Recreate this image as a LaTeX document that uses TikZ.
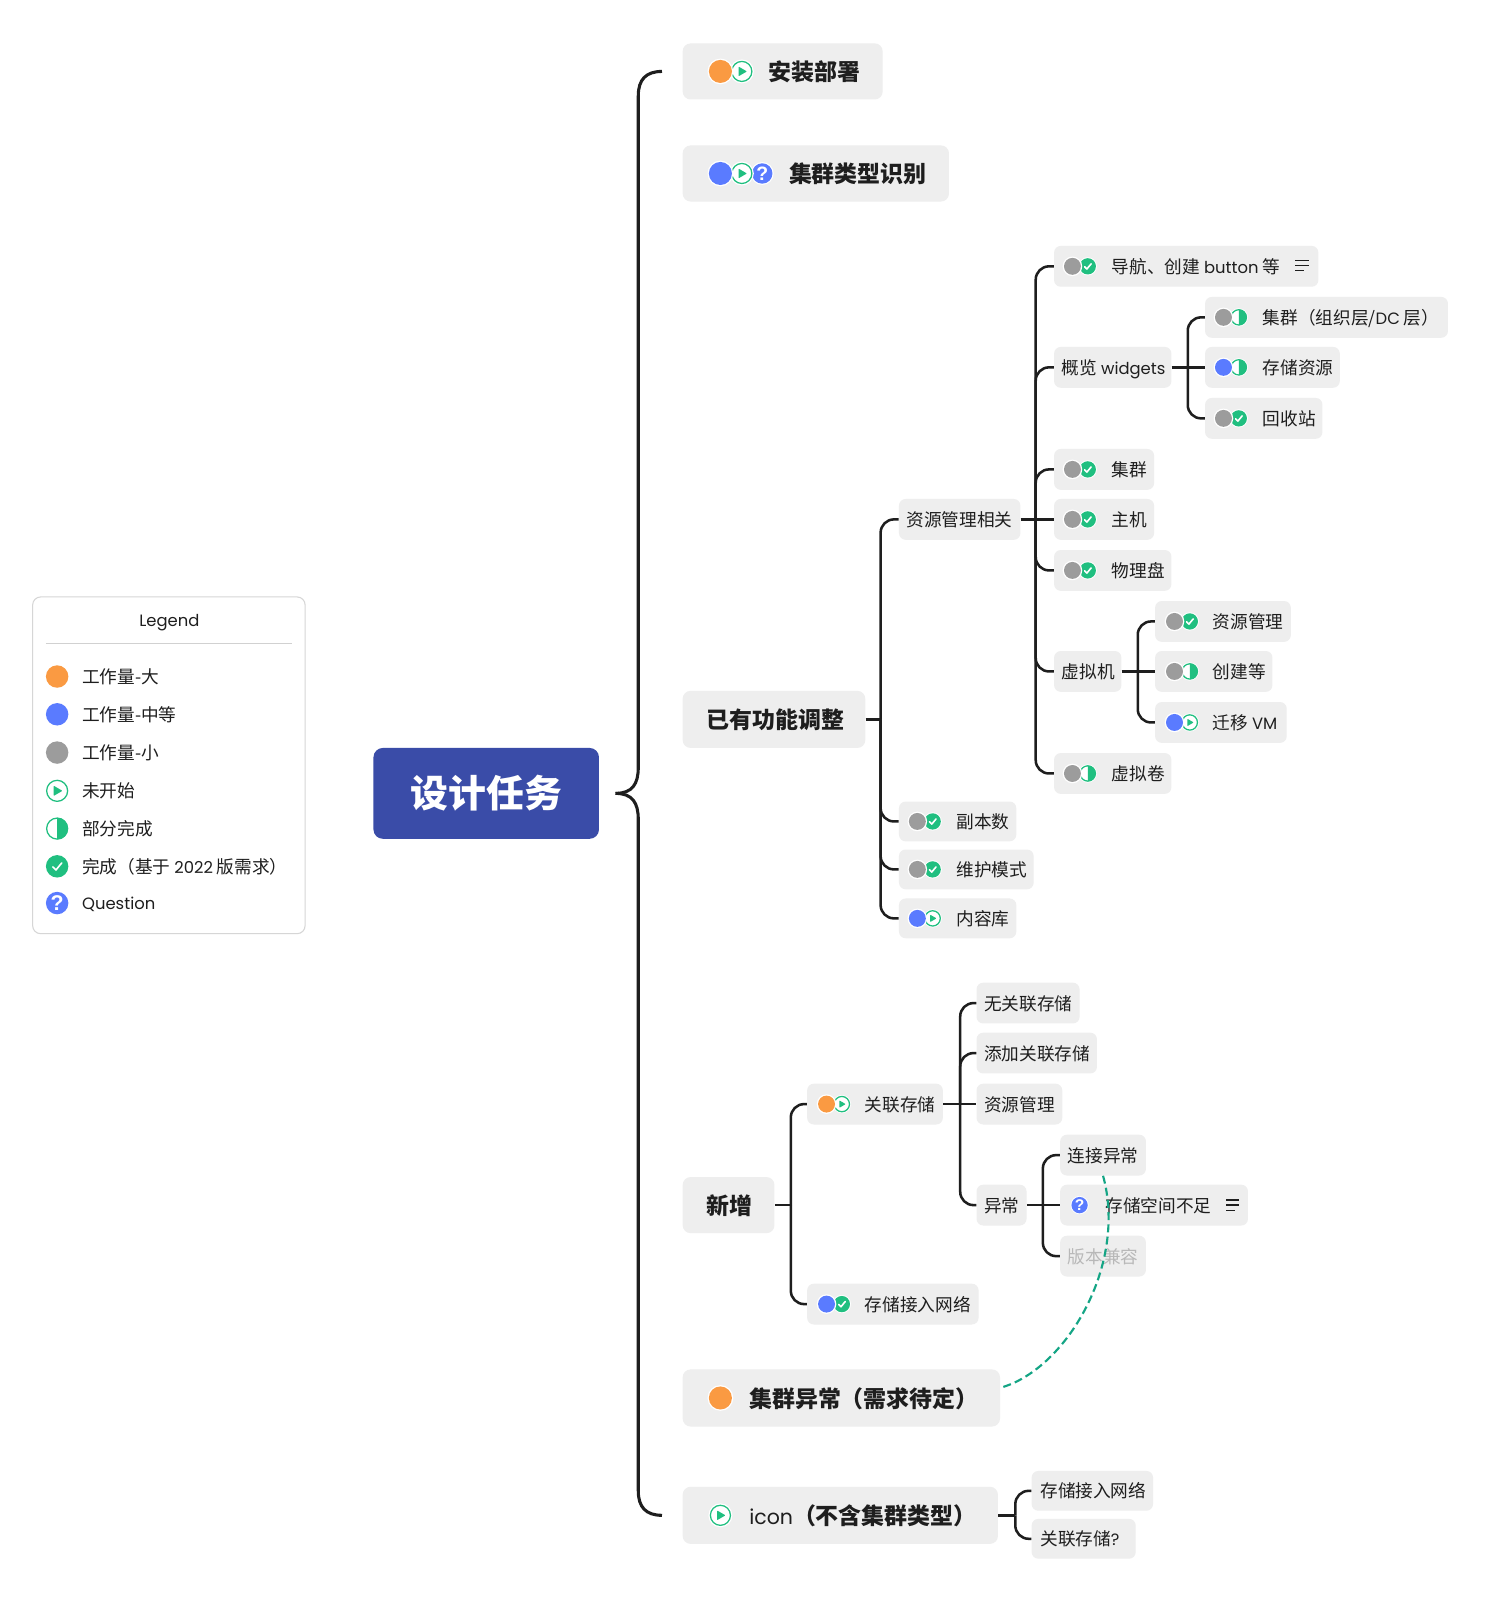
\documentclass[tikz,border=0pt]{standalone}
\usepackage{fontspec}
\setmainfont{Noto Sans CJK SC}
\newfontfamily\latf{Poppins}
\newfontfamily\latm{Poppins Medium}
\newfontfamily\qmf{Liberation Sans}
\newcommand{\lat}[1]{{\latf\fontsize{12.3pt}{14pt}\selectfont #1}}
\definecolor{boxg}{HTML}{EEEEEE}
\definecolor{rootb}{HTML}{3A4CA8}
\definecolor{ink}{HTML}{1E1E1E}
\definecolor{ora}{HTML}{FA9A42}
\definecolor{blu}{HTML}{5A7BFF}
\definecolor{gra}{HTML}{9C9C9C}
\definecolor{gre}{HTML}{20BF80}
\definecolor{teal2}{HTML}{14A585}
\tikzset{
  boxa/.style={fill=boxg,draw=none,rounded corners=6pt,inner sep=0pt},
  boxb/.style={fill=boxg,draw=none,rounded corners=5pt,inner sep=0pt},
  tl/.style={font=\fontsize{17.2pt}{18pt}\selectfont\bfseries,text=ink,inner sep=0pt,anchor=west,text height=15.4pt,text depth=1.8pt},
  ts/.style={font=\fontsize{13.25pt}{15pt}\selectfont,text=ink,inner sep=0pt,anchor=west,text height=12pt,text depth=1.3pt,xshift=0.2pt},
  tg/.style={ts,text=black!28},
  conn/.style={line width=1.9pt,draw=ink,rounded corners=10pt},
  brace/.style={line width=2.3pt,draw=ink},
  link/.style={line width=1.6pt,draw=teal2,dash pattern=on 6pt off 3.2pt},
  qmark/.style={font=\qmf\fontsize{16pt}{16pt}\selectfont\bfseries,text=white,inner sep=0pt,transform shape},
}
% name, x1, x2, cy, h, boxstyle, textx, textstyle, text
\newcommand{\mm}[9]{%
  \node[#6,minimum width={(#3-#2)*0.7654pt},minimum height={#5*0.7654pt}] (#1) at ({(#2+#3)/2},#4) {};
  \node[#8] (#1-t) at (#7,#4) {#9};}
\newcommand{\dotI}[4]{\fill[white] (#1,#2) circle[radius=#3+1.3];\fill[#4] (#1,#2) circle[radius=#3];}
\newcommand{\playI}[3]{\begin{scope}[shift={(#1,#2)},scale=#3/11]
  \fill[white] (0,0) circle[radius=12.3];
  \draw[gre,line width=0.95pt] (0,0) circle[radius=10.3];
  \fill[gre,rounded corners=0.5pt] (-3.4,-5) -- (5.2,0) -- (-3.4,5) -- cycle;\end{scope}}
\newcommand{\halfI}[3]{\begin{scope}[shift={(#1,#2)},scale=#3/11]
  \fill[white] (0,0) circle[radius=12.3];
  \draw[gre,line width=0.95pt] (0,0) circle[radius=10.3];
  \fill[gre] (0,-10.6) arc[start angle=-90,end angle=90,radius=10.6] -- cycle;\end{scope}}
\newcommand{\checkI}[3]{\begin{scope}[shift={(#1,#2)},scale=#3/11]
  \fill[white] (0,0) circle[radius=12.3];
  \fill[gre] (0,0) circle[radius=11];
  \draw[white,line width=1.2pt,line cap=round,line join=round] (-4.3,0.5) -- (-1.2,3.6) -- (4.6,-3.4);\end{scope}}
\newcommand{\questI}[3]{\begin{scope}[shift={(#1,#2)},scale=#3/11]
  \fill[white] (0,0) circle[radius=12.3];
  \fill[blu] (0,0) circle[radius=11];
  \node[qmark] (qm) at (0,0) {?};\end{scope}}
% small pair: x of dot, y, colour, status macro
\newcommand{\pairI}[4]{#4{#1+15}{#2}{8};\dotI{#1}{#2}{8.3}{#3}}
\newcommand{\notesI}[2]{\draw[ink,line width=1pt] (#1-6.5,#2-5) -- (#1+6.5,#2-5) (#1-6.5,#2) -- (#1+6.5,#2) (#1-6.5,#2+5) -- (#1+2,#2+5);}
\begin{document}
\begin{tikzpicture}[x=0.7654pt,y=-0.7654pt]
\useasboundingbox[fill=white] (0,0) rectangle (1458,1568);

% ---- legend
\node[draw=black!16,fill=white,line width=0.8pt,rounded corners=6pt,minimum width={267*0.7654pt},minimum height={330*0.7654pt},inner sep=0pt] (legend) at (165.5,750) {};
\node[ts] (legendtitle) at (136,607) {\lat{Legend}};
\draw[black!18,line width=0.8pt] (45,631) -- (286,631);
\dotI{56}{663}{11}{ora}
\dotI{56}{700}{11}{blu}
\dotI{56}{737.5}{11}{gra}
\playI{56}{775}{11}
\halfI{56}{812}{11}
\checkI{56}{849}{11}
\questI{56}{885}{11}
\node[ts] (lg1) at (80,663) {工作量-大};
\node[ts] (lg2) at (80,700) {工作量-中等};
\node[ts] (lg3) at (80,737.5) {工作量-小};
\node[ts] (lg4) at (80,775) {未开始};
\node[ts] (lg5) at (80,812) {部分完成};
\node[ts] (lg6) at (80,849) {完成（基于 \lat{2022} 版需求）};
\node[ts] (lg7) at (80,884) {\lat{Question}};

% ---- root
\node[fill=rootb,rounded corners=7pt,minimum width={221*0.7654pt},minimum height={89*0.7654pt},inner sep=0pt,font=\fontsize{28.4pt}{30pt}\selectfont\bfseries,text=white] (root) at (476.5,777.5) {设计任务};

% ---- level 1
\mm{install}{669}{865}{70}{55}{boxa}{753}{tl}{安装部署}
\mm{ctype}{669}{930}{170}{55}{boxa}{773}{tl}{集群类型识别}
\mm{adjust}{669}{848}{705}{56}{boxa}{692}{tl}{已有功能调整}
\mm{newadd}{669}{759}{1181}{55}{boxa}{692}{tl}{新增}
\mm{cerr}{669}{980}{1370}{56}{boxa}{734}{tl}{集群异常（需求待定）}
\mm{iconn}{669}{978}{1485}{56}{boxa}{734}{tl}{{\latf\fontsize{15.4pt}{18pt}\selectfont\mdseries icon}（不含集群类型）}

% ---- level 2
\mm{res}{881}{1000}{509}{40}{boxb}{888}{ts}{资源管理相关}
\mm{rep}{881}{996}{805}{39}{boxb}{937}{ts}{副本数}
\mm{maint}{881}{1013}{852}{39}{boxb}{937}{ts}{维护模式}
\mm{lib}{881}{996}{900}{39}{boxb}{937}{ts}{内容库}
\mm{assoc}{791}{924}{1082}{40}{boxb}{847}{ts}{关联存储}
\mm{netw}{791}{959}{1278}{40}{boxb}{847}{ts}{存储接入网络}

% ---- level 3
\mm{nav}{1033}{1292}{261}{40}{boxb}{1089}{ts}{导航、创建 \lat{button} 等}
\mm{wid}{1033}{1148}{360}{40}{boxb}{1040}{ts}{概览 \lat{widgets}}
\mm{clu}{1033}{1131}{460}{40}{boxb}{1089}{ts}{集群}
\mm{host}{1033}{1131}{509}{40}{boxb}{1089}{ts}{主机}
\mm{disk}{1033}{1148}{559}{40}{boxb}{1089}{ts}{物理盘}
\mm{vm}{1033}{1099}{658}{40}{boxb}{1040}{ts}{虚拟机}
\mm{vol}{1033}{1148}{758}{40}{boxb}{1089}{ts}{虚拟卷}
\mm{w1}{1181}{1419}{311}{40}{boxb}{1237}{ts}{集群（组织层/\lat{DC} 层）}
\mm{w2}{1181}{1313}{360}{40}{boxb}{1237}{ts}{存储资源}
\mm{w3}{1181}{1296}{410}{40}{boxb}{1237}{ts}{回收站}
\mm{v1}{1132}{1265}{609}{40}{boxb}{1188}{ts}{资源管理}
\mm{v2}{1132}{1247}{658}{40}{boxb}{1188}{ts}{创建等}
\mm{v3}{1132}{1261}{708}{40}{boxb}{1188}{ts}{迁移 \lat{VM}}
\mm{a1}{957}{1058}{983}{40}{boxb}{964}{ts}{无关联存储}
\mm{a2}{957}{1075}{1032}{40}{boxb}{964}{ts}{添加关联存储}
\mm{a3}{957}{1041}{1082}{40}{boxb}{964}{ts}{资源管理}
\mm{a4}{957}{1006}{1181}{40}{boxb}{964}{ts}{异常}
\mm{e1}{1039}{1123}{1132}{40}{boxb}{1046}{ts}{连接异常}
\mm{e2}{1039}{1223}{1181}{40}{boxb}{1083}{ts}{存储空间不足}
\mm{e3}{1039}{1123}{1231}{40}{boxb}{1046}{tg}{版本兼容}
\mm{i1}{1011}{1130}{1461}{39}{boxb}{1019}{ts}{存储接入网络}
\mm{i2}{1011}{1113}{1508}{39}{boxb}{1019}{ts}{关联存储\lat{?}}

% ---- icons
\playI{727}{70}{10.5}\dotI{706}{70}{11.3}{ora}
\questI{747}{170}{10}\playI{727}{170}{10.5}\dotI{706}{170}{11.3}{blu}
\dotI{706}{1370}{11.3}{ora}
\playI{706}{1485}{10.5}
\pairI{899}{805}{gra}{\checkI}
\pairI{899}{852}{gra}{\checkI}
\pairI{899}{900}{blu}{\playI}
\pairI{810}{1082}{ora}{\playI}
\pairI{810}{1278}{blu}{\checkI}
\pairI{1051}{261}{gra}{\checkI}
\pairI{1051}{460}{gra}{\checkI}
\pairI{1051}{509}{gra}{\checkI}
\pairI{1051}{559}{gra}{\checkI}
\pairI{1051}{758}{gra}{\halfI}
\pairI{1199}{311}{gra}{\halfI}
\pairI{1199}{360}{blu}{\halfI}
\pairI{1199}{410}{gra}{\checkI}
\pairI{1151}{609}{gra}{\checkI}
\pairI{1151}{658}{gra}{\halfI}
\pairI{1151}{708}{blu}{\playI}
\questI{1058}{1181}{8}
\notesI{1276}{260}
\notesI{1208}{1181}

% ---- root brace
\coordinate (brT) at ([xshift=-15.3pt]install.west);
\coordinate (brB) at ([xshift=-15.3pt]iconn.west);
\coordinate (brM) at ([xshift=12.2pt]root.east);
\draw[brace] (brT) .. controls (633,70) and (625.5,78) .. (625.5,94) -- (625.5,752)
  .. controls (625.5,768) and (620,777.5) .. (brM);
\draw[brace] (brB) .. controls (633,1485) and (625.5,1477) .. (625.5,1461) -- (625.5,803)
  .. controls (625.5,787) and (620,777.5) .. (brM);

% ---- connectors (children level with the parent take a straight line)
\coordinate (Tadj) at (863,705);
\draw[conn] (adjust.east) -- (Tadj);
\foreach \c in {res,rep,maint,lib} \draw[conn] (Tadj) |- (\c.west);
\coordinate (Tres) at (1015,509);
\draw[conn] (res.east) -- (host.west);
\foreach \c in {nav,wid,clu,disk,vm,vol} \draw[conn] (Tres) |- (\c.west);
\coordinate (Twid) at (1164,360);
\draw[conn] (wid.east) -- (w2.west);
\foreach \c in {w1,w3} \draw[conn] (Twid) |- (\c.west);
\coordinate (Tvm) at (1115,658);
\draw[conn] (vm.east) -- (v2.west);
\foreach \c in {v1,v3} \draw[conn] (Tvm) |- (\c.west);
\coordinate (Tnew) at (775,1181);
\draw[conn] (newadd.east) -- (Tnew);
\foreach \c in {assoc,netw} \draw[conn] (Tnew) |- (\c.west);
\coordinate (Tass) at (941,1082);
\draw[conn] (assoc.east) -- (a3.west);
\foreach \c in {a1,a2,a4} \draw[conn] (Tass) |- (\c.west);
\coordinate (Terr) at (1022,1181);
\draw[conn] (a4.east) -- (e2.west);
\foreach \c in {e1,e3} \draw[conn] (Terr) |- (\c.west);
\coordinate (Tico) at (995,1485);
\draw[conn] (iconn.east) -- (Tico);
\foreach \c in {i1,i2} \draw[conn] (Tico) |- (\c.west);

% ---- dashed link
\draw[link] ([xshift=2.3pt]cerr.4) .. controls (1045,1340) and (1105,1240) .. (e1.south);
\end{tikzpicture}
\end{document}
